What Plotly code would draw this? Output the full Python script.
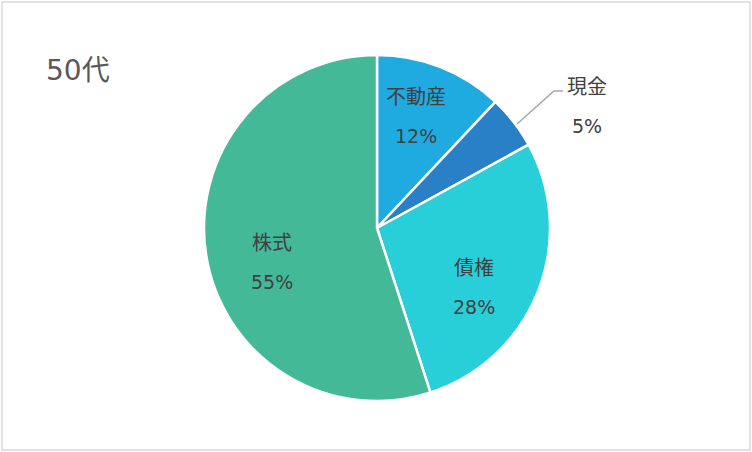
import plotly.graph_objects as go

# data
labels = ['不動産', '現金', '債権', '株式']
values = [12, 5, 28, 55]
colors = ['#1FAAE0', '#2980C7', '#28CFD9', '#43B998']
title_text = '50代'

W, H = 752, 452
FONT = 'DejaVu Sans, Noto Sans CJK JP'


def px(x, y):
    # pixel position -> paper coordinates
    return x / W, 1 - y / H


fig = go.Figure()

fig.add_trace(go.Pie(
    labels=labels, values=values,
    sort=False, direction='clockwise', rotation=0,
    marker=dict(colors=colors, line=dict(color='white', width=2.5)),
    textinfo='none',
    showlegend=False,
    domain=dict(x=[204 / W, 550 / W], y=[1 - 401 / H, 1 - 55 / H]),
    hoverinfo='label+percent',
))

# label positions (pixel centres of the name line) for each slice
label_pos = {'不動産': (416, 97), '現金': (587, 87), '債権': (474, 268), '株式': (272, 243)}
total = sum(values)
annotations = []
for name, v in zip(labels, values):
    x, y = label_pos[name]
    for txt, yy, sz in [(name, y, 20), (f'{v / total * 100:.0f}%', y + 39, 19)]:
        xp, yp = px(x, yy)
        annotations.append(dict(text=txt, x=xp, y=yp, xref='paper', yref='paper',
                                showarrow=False, xanchor='center', yanchor='middle',
                                font=dict(family=FONT, size=sz, color='#404040')))

tx, ty = px(44, 71)
annotations.append(dict(text=title_text, x=tx, y=ty, xref='paper', yref='paper', showarrow=False,
                        xanchor='left', yanchor='middle',
                        font=dict(family=FONT, size=28, color='#595959')))

# leader line for the small slice
lx0, ly0 = px(517, 124)
lx1, ly1 = px(554, 91)
lx2, ly2 = px(563, 91)

fig.update_layout(
    width=W, height=H,
    margin=dict(l=0, r=0, t=0, b=0),
    paper_bgcolor='white',
    annotations=annotations,
    shapes=[
        dict(type='rect', xref='paper', yref='paper', x0=2 / W, x1=1 - 2 / W, y0=2 / H, y1=1 - 2 / H,
             line=dict(color='#D9D9D9', width=1.5)),
        dict(type='path', xref='paper', yref='paper',
             path=f'M {lx0} {ly0} L {lx1} {ly1} L {lx2} {ly2}',
             line=dict(color='#A6A6A6', width=1.5)),
    ],
)

fig.write_html('out.html', config={'displayModeBar': False},
               post_script="document.body.style.margin='0';")
